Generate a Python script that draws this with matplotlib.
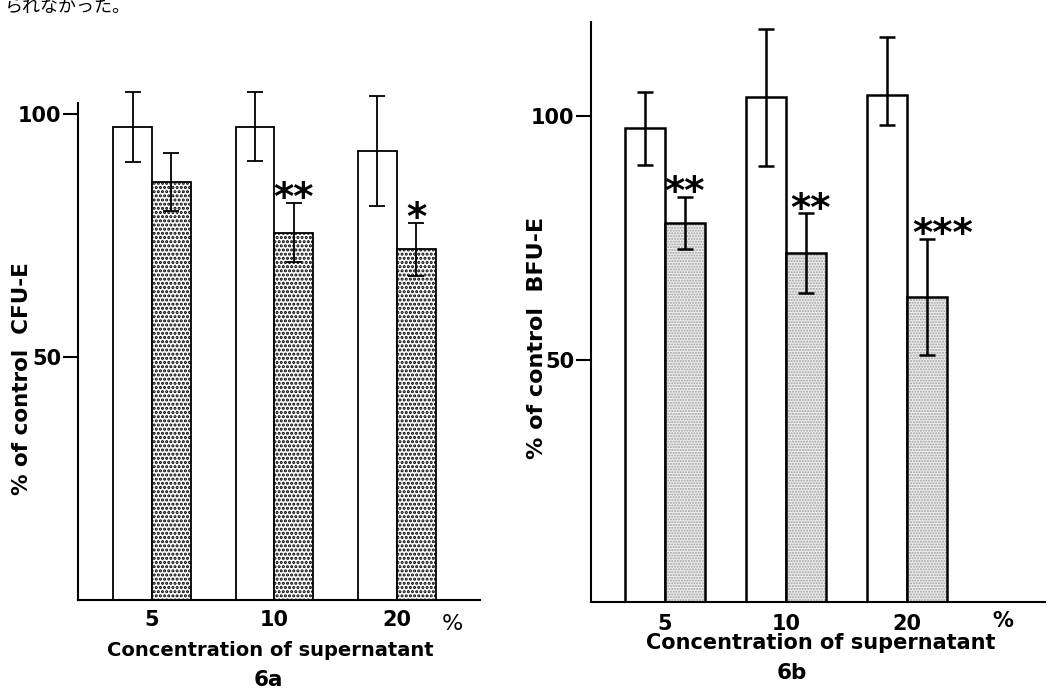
import matplotlib.pyplot as plt
import numpy as np

# concentrations of supernatant (%)
conc_labels = ['5', '10', '20']

# 6a  CFU-E, % of control (open = control, dotted = supernatant)
cfu_ctrl = [97.3, 97.4, 92.5]
cfu_ctrl_sd = [7.2, 7.1, 11.3]
cfu_sup = [86.1, 75.6, 72.2]
cfu_sup_sd = [6.0, 6.1, 5.5]
cfu_marks = ['', '**', '*']

# 6b  BFU-E, % of control
bfu_ctrl = [97.6, 104.0, 104.3]
bfu_ctrl_sd_lo = [7.6, 14.2, 6.1]
bfu_ctrl_sd_hi = [7.4, 13.9, 11.9]
bfu_sup = [78.1, 71.9, 63.0]
bfu_sup_sd = [5.3, 8.2, 11.9]
bfu_marks = ['**', '**', '***']

plt.rcParams['font.family'] = ['DejaVu Sans']
plt.rcParams['font.weight'] = 'bold'

W, H = 1047, 696
fig = plt.figure(figsize=(W / 100, H / 100), dpi=100)


def axes_px(left, top, right, bottom):
    return fig.add_axes([left / W, 1 - bottom / H, (right - left) / W, (bottom - top) / H])


def draw_panel(ax, ctrl, ctrl_err, sup, sup_err, marks, width, shade, hatch, hatch_col,
               hatch_lw, lw, mark_dx, mark_size):
    x = np.arange(len(ctrl))
    ax.bar(x - width, ctrl, width, align='edge', color='white', edgecolor='black',
           linewidth=lw, zorder=2)
    dots = ax.bar(x, sup, width, align='edge', color=shade, edgecolor=hatch_col, hatch=hatch,
                  linewidth=0, zorder=2)
    for p in dots:
        if hasattr(p, 'set_hatch_linewidth'):
            p.set_hatch_linewidth(hatch_lw)
    ax.bar(x, sup, width, align='edge', color='none', edgecolor='black', linewidth=lw, zorder=3)
    for xs, ys, es in [(x - width / 2, ctrl, ctrl_err), (x + width / 2, sup, sup_err)]:
        eb = ax.errorbar(xs, ys, yerr=es, fmt='none', ecolor='black', elinewidth=lw,
                         capsize=6, capthick=lw, zorder=4)
        for art in eb.lines[1] + eb.lines[2]:
            art.set_clip_on(False)
    for i, m in enumerate(marks):
        if m:
            ax.text(x[i] + width / 2 + mark_dx[i], sup[i] + sup_err[i] - 1.5, m,
                    ha='center', va='baseline', fontsize=mark_size)
    for s in ['top', 'right']:
        ax.spines[s].set_visible(False)
    for s in ['left', 'bottom']:
        ax.spines[s].set_linewidth(1.5)
    ax.set_yticks([50, 100])
    ax.tick_params(axis='y', length=11, width=1.5, pad=1, labelsize=15)
    ax.set_xticks(x, conc_labels)
    ax.tick_params(axis='x', length=0, labelsize=15)
    return x


# ---- 6a ----
axA = axes_px(78, 103, 480, 600)
draw_panel(axA, cfu_ctrl, cfu_ctrl_sd, cfu_sup, cfu_sup_sd, cfu_marks, 0.318,
           'white', '....', 'black', 1.5, 1.3, [0, 0, 0], 28)
axA.set_xlim(-0.604, 2.678)
axA.set_ylim(0, 102.3)
axA.tick_params(axis='x', pad=7)
axA.annotate('%', xy=(2.45, 0), xycoords=axA.get_xaxis_transform(), xytext=(0, -17),
             textcoords='offset points', ha='center', va='center', fontsize=16,
             fontweight='normal')

# ---- 6b ----
axB = axes_px(591, 22, 1045, 602)
draw_panel(axB, bfu_ctrl, [bfu_ctrl_sd_lo, bfu_ctrl_sd_hi], bfu_sup, bfu_sup_sd, bfu_marks,
           0.33, '#ededed', '......', '#a0a0a0', 1.0, 1.8, [0, 0.04, 0.13], 28)
axB.set_xlim(-0.612, 3.14)
axB.set_ylim(0.4, 119.3)
axB.tick_params(axis='x', pad=8.5)
axB.annotate('%', xy=(2.79, 0), xycoords=axB.get_xaxis_transform(), xytext=(0, -14),
             textcoords='offset points', ha='center', va='center', fontsize=15)


def px_text(x, y, s, **kw):
    fig.text(x / W, 1 - y / H, s, **kw)


px_text(22, 379, '% of control  CFU-E', rotation=90, ha='center', va='center', fontsize=15.5)
px_text(537, 338, '% of control  BFU-E', rotation=90, ha='center', va='center', fontsize=16)
px_text(270, 651, 'Concentration of supernatant', ha='center', va='center', fontsize=14)
px_text(821, 643, 'Concentration of supernatant', ha='center', va='center', fontsize=15)
px_text(268, 680, '6a', ha='center', va='center', fontsize=15.5)
px_text(792, 673, '6b', ha='center', va='center', fontsize=15.5)

# leftover line of the scanned page above the figure
px_text(5, 12, 'られなかった。', ha='left', va='baseline', fontsize=13,
        family=['Noto Sans CJK JP', 'DejaVu Sans'], fontweight='normal')

fig.savefig('out.png', dpi=100)
